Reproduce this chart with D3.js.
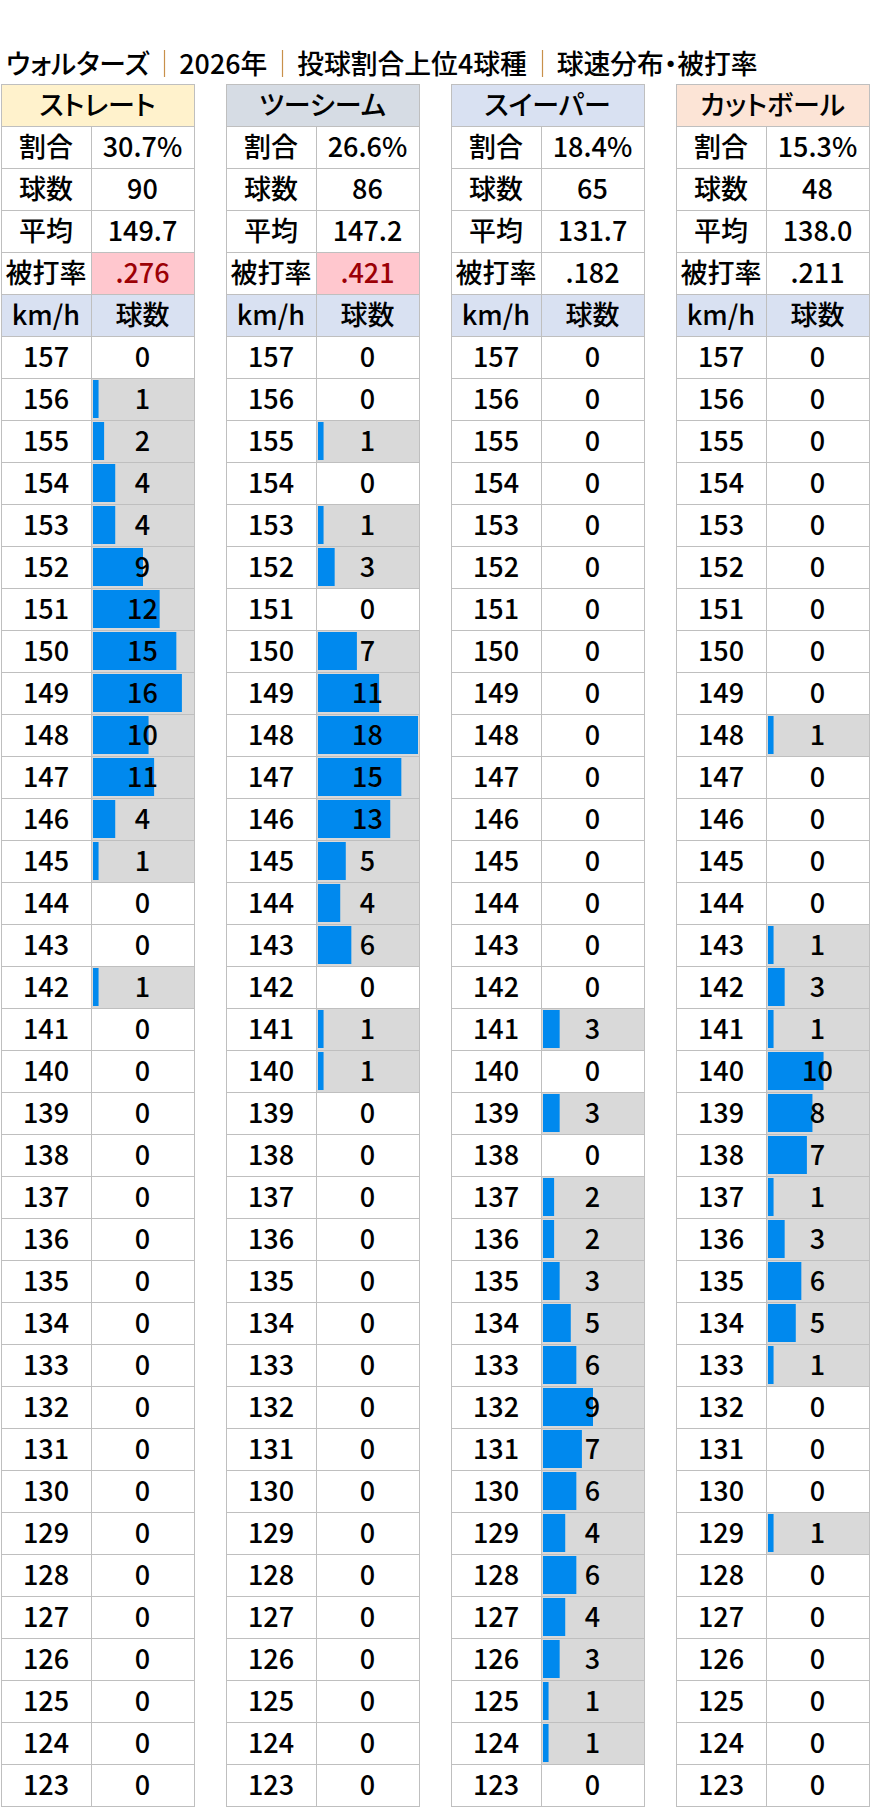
<!DOCTYPE html>
<html>
<head>
<meta charset="utf-8">
<script src="https://cdn.jsdelivr.net/npm/d3@7"></script>
<style>
  body { margin: 0; background: #fff; }
  svg text { font-family: "Noto Sans CJK JP", "Noto Sans", sans-serif; font-feature-settings: "palt"; font-weight: 500; }
</style>
</head>
<body>
<div id="chart"></div>
<script>
// title parts (separated by a thin bar)
var titleParts = ["ウォルターズ", "2026年", "投球割合上位4球種", "球速分布・被打率"];

// pitch types and summary rows
var pitches = ["ストレート", "ツーシーム", "スイーパー", "カットボール"];
var headColors = ["#FFF2CC", "#D6DCE4", "#D9E1F2", "#FCE4D6"];
var statLabels = ["割合", "球数", "平均", "被打率"];
var shares = ["30.7%", "26.6%", "18.4%", "15.3%"];
var counts = ["90", "86", "65", "48"];
var avgs = ["149.7", "147.2", "131.7", "138.0"];
var hitRates = [".276", ".421", ".182", ".211"];
var hitHigh = [true, true, false, false];

// speed bins (km/h)
var speeds = [157, 156, 155, 154, 153, 152, 151, 150, 149, 148, 147, 146, 145, 144, 143, 142, 141, 140,
              139, 138, 137, 136, 135, 134, 133, 132, 131, 130, 129, 128, 127, 126, 125, 124, 123];

// pitch counts per speed bin
var straight = [0, 1, 2, 4, 4, 9, 12, 15, 16, 10, 11, 4, 1, 0, 0, 1, 0, 0,
                0, 0, 0, 0, 0, 0, 0, 0, 0, 0, 0, 0, 0, 0, 0, 0, 0];
var twoSeam  = [0, 0, 1, 0, 1, 3, 0, 7, 11, 18, 15, 13, 5, 4, 6, 0, 1, 1,
                0, 0, 0, 0, 0, 0, 0, 0, 0, 0, 0, 0, 0, 0, 0, 0, 0];
var sweeper  = [0, 0, 0, 0, 0, 0, 0, 0, 0, 0, 0, 0, 0, 0, 0, 0, 3, 0,
                3, 0, 2, 2, 3, 5, 6, 9, 7, 6, 4, 6, 4, 3, 1, 1, 0];
var cutter   = [0, 0, 0, 0, 0, 0, 0, 0, 0, 1, 0, 0, 0, 0, 1, 3, 1, 10,
                8, 7, 1, 3, 6, 5, 1, 0, 0, 0, 1, 0, 0, 0, 0, 0, 0];

var series = [straight, twoSeam, sweeper, cutter];
var stats = [shares, counts, avgs, hitRates];

var W = 871, H = 1808;
var top0 = 84, rowH = 42, col1 = 90, col2 = 103;
var nRows = 1 + statLabels.length + 1 + speeds.length;
var fs = 27;
var border = "#BFBFBF";

var svg = d3.select("#chart").append("svg")
    .attr("width", W)
    .attr("height", H);

// title: pieces laid out left to right, thin bar between them
var tLeft = 6, tRight = 758, gap = 15;
var tg = svg.append("g");
var pieces = titleParts.map(function(s) {
    return tg.append("text")
        .attr("y", 74)
        .style("font-size", "26px")
        .attr("fill", "#000")
        .text(s);
});
var sum = d3.sum(pieces, function(p) { return p.node().getComputedTextLength(); });
var avail = (tRight - tLeft) - gap * 2 * (titleParts.length - 1);
var tfs = Math.min(27, 26 * avail / sum);
var cx = tLeft;
pieces.forEach(function(p, i) {
    p.style("font-size", tfs + "px").attr("x", cx);
    cx += p.node().getComputedTextLength();
    if (i < pieces.length - 1) {
        tg.append("line")
            .attr("x1", Math.round(cx + gap) + 0.5).attr("x2", Math.round(cx + gap) + 0.5)
            .attr("y1", 50).attr("y2", 77)
            .attr("stroke", "#C8904A")
            .attr("stroke-width", 1.2);
        cx += gap * 2;
    }
});

var tx = d3.scaleLinear().domain([0, 3]).range([1, 676]);
var ty = d3.scaleLinear().domain([0, nRows]).range([top0, top0 + nRows * rowH]);
var bar = d3.scaleLinear().domain([0, 18]).range([0, 100]);

function cell(g, x, y, w, fill) {
    g.append("rect")
        .attr("x", x + 0.5).attr("y", y + 0.5)
        .attr("width", w).attr("height", rowH)
        .attr("fill", fill)
        .attr("stroke", border)
        .attr("stroke-width", 1);
}

function label(g, x, y, txt, color) {
    g.append("text")
        .attr("x", x)
        .attr("y", y + rowH / 2 + 10)
        .attr("text-anchor", "middle")
        .style("font-size", fs + "px")
        .attr("fill", color || "#000")
        .text(txt);
}

pitches.forEach(function(p, i) {
    var g = svg.append("g");
    var x0 = Math.round(tx(i));

    // header
    cell(g, x0, ty(0), col1 + col2, headColors[i]);
    label(g, x0 + (col1 + col2) / 2, ty(0), p);

    // summary rows
    statLabels.forEach(function(s, j) {
        var y = ty(1 + j);
        var hi = (j === 3 && hitHigh[i]);
        cell(g, x0, y, col1, "#fff");
        cell(g, x0 + col1, y, col2, hi ? "#FFC7CE" : "#fff");
        label(g, x0 + col1 / 2, y, s);
        label(g, x0 + col1 + col2 / 2, y, stats[j][i], hi ? "#9C0006" : "#000");
    });

    // km/h header
    var yh = ty(5);
    cell(g, x0, yh, col1, "#D9E1F2");
    cell(g, x0 + col1, yh, col2, "#D9E1F2");
    label(g, x0 + col1 / 2, yh, "km/h");
    label(g, x0 + col1 + col2 / 2, yh, "球数");

    // speed rows
    speeds.forEach(function(sp, k) {
        var y = ty(6 + k);
        var v = series[i][k];
        cell(g, x0, y, col1, "#fff");
        cell(g, x0 + col1, y, col2, v > 0 ? "#D9D9D9" : "#fff");
        if (v > 0) {
            g.append("rect")
                .attr("x", x0 + col1 + 2)
                .attr("y", y + 2)
                .attr("width", bar(v))
                .attr("height", rowH - 4)
                .attr("fill", "#0089EE");
        }
        label(g, x0 + col1 / 2, y, sp);
        label(g, x0 + col1 + col2 / 2, y, v);
    });
});
</script>
</body>
</html>
